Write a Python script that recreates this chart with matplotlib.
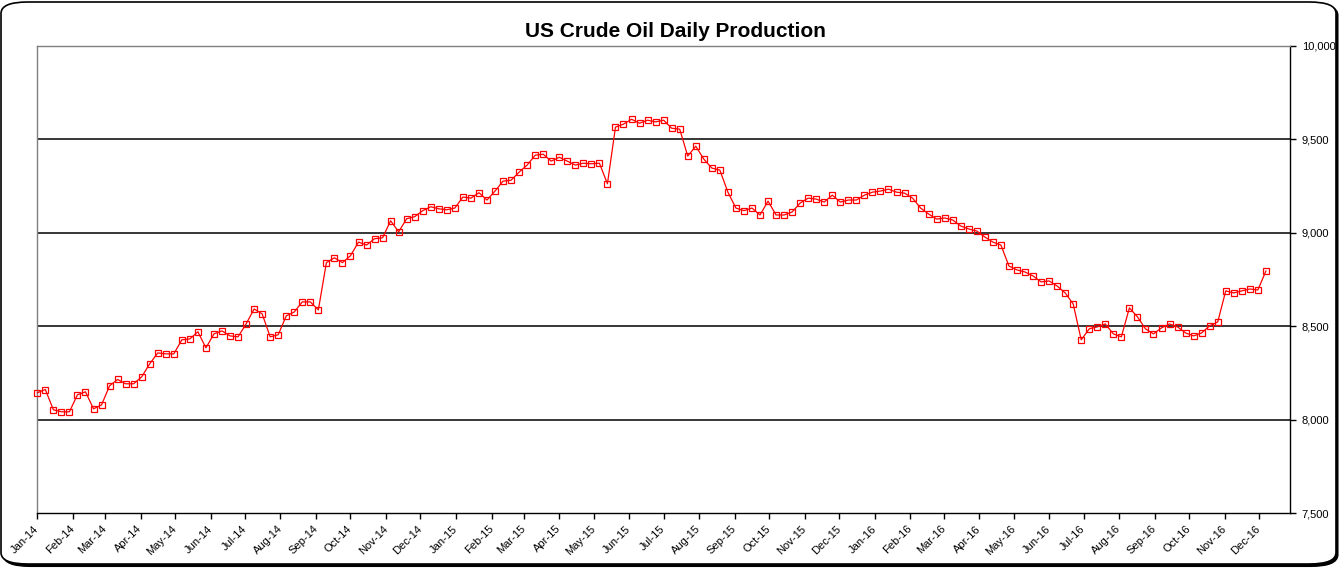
# -*- coding: utf-8 -*-
"""
US crude oil daily production, weekly, Jan 2014 - Dec 2016
"""
import matplotlib
matplotlib.use("Agg")
import matplotlib.pyplot as plt
import matplotlib.dates as mdates
from matplotlib.patches import FancyBboxPatch
from matplotlib.ticker import FuncFormatter
import pandas as pd

plt.rcParams['font.family'] = ['Liberation Sans', 'DejaVu Sans']

TITLE = "US Crude Oil Daily Production"
FIRST_WEEK = "2014-01-03"
LAST_DAY = "2016-12-30"

# thousand barrels per day, weekly
production = [
    8145, 8162, 8054, 8043, 8043, 8134, 8150, 8059, 8080, 8182,
    8216, 8193, 8193, 8230, 8300, 8358, 8353, 8353, 8428, 8433,
    8471, 8385, 8460, 8476, 8449, 8444, 8513, 8593, 8567, 8444,
    8455, 8556, 8577, 8631, 8631, 8588, 8841, 8867, 8841, 8878,
    8951, 8935, 8969, 8974, 9065, 9006, 9076, 9087, 9119, 9140,
    9129, 9124, 9133, 9192, 9186, 9215, 9176, 9224, 9277, 9282,
    9325, 9363, 9416, 9421, 9384, 9405, 9384, 9363, 9373, 9370,
    9373, 9263, 9566, 9582, 9608, 9587, 9603, 9594, 9603, 9560,
    9555, 9411, 9464, 9395, 9347, 9336, 9218, 9133, 9119, 9133,
    9096, 9170, 9096, 9096, 9112, 9160, 9186, 9181, 9165, 9202,
    9165, 9176, 9176, 9202, 9218, 9224, 9234, 9218, 9213, 9186,
    9133, 9101, 9074, 9080, 9069, 9037, 9021, 9010, 8978, 8951,
    8935, 8823, 8802, 8791, 8770, 8738, 8743, 8716, 8679, 8620,
    8428, 8487, 8497, 8513, 8460, 8444, 8599, 8551, 8487, 8460,
    8492, 8513, 8497, 8465, 8449, 8465, 8503, 8524, 8690, 8679,
    8690, 8700, 8695, 8796,
]
weeks = pd.date_range(FIRST_WEEK, periods=len(production), freq="7D")
month_ticks = pd.date_range(FIRST_WEEK, "2016-12-03", freq=pd.DateOffset(months=1))
y_ticks = [7500, 8000, 8500, 9000, 9500, 10000]

fig = plt.figure(figsize=(13.41, 5.68), dpi=100)

# rounded chart frame with a little shadow
shadow = FancyBboxPatch((3.5 / 1341, 1 - 566 / 568), 1334 / 1341, 562 / 568,
                        boxstyle="round,pad=0,rounding_size=0.02",
                        transform=fig.transFigure, facecolor="black",
                        edgecolor="black", linewidth=1.5, zorder=-2)
frame = FancyBboxPatch((1 / 1341, 1 - 564 / 568), 1335 / 1341, 562 / 568,
                       boxstyle="round,pad=0,rounding_size=0.02",
                       transform=fig.transFigure, facecolor="white",
                       edgecolor="black", linewidth=1.2, zorder=-1)
fig.patches.extend([shadow, frame])

ax = fig.add_axes([37.3 / 1341, 1 - 513.3 / 568, (1290 - 37.3) / 1341, (513.3 - 46) / 568])
ax.set_facecolor("white")
ax.patch.set_alpha(0)

for v in y_ticks[1:-1]:
    ax.axhline(v, color="black", linewidth=1.1, zorder=1)

ax.plot(weeks, production, color="#FF0000", linewidth=0.9, marker="s",
        markersize=4, markerfacecolor="none", markeredgecolor="#FF0000",
        markeredgewidth=0.9, zorder=3, clip_on=False)

ax.set_xlim(pd.Timestamp(FIRST_WEEK), pd.Timestamp(LAST_DAY))
ax.set_ylim(7500, 10000)

ax.spines["left"].set_color("#808080")
ax.spines["top"].set_color("#808080")
ax.spines["right"].set_color("black")
ax.spines["bottom"].set_color("black")
for s in ax.spines.values():
    s.set_linewidth(1.0)

ax.yaxis.tick_right()
ax.set_yticks(y_ticks)
ax.yaxis.set_major_formatter(FuncFormatter(lambda v, p: f"{int(v):,}"))
ax.tick_params(axis="y", direction="out", length=4, width=1, labelsize=8, pad=4.5)

ax.set_xticks(month_ticks)
ax.xaxis.set_major_formatter(mdates.DateFormatter("%b-%y"))
ax.tick_params(axis="x", direction="out", length=4, width=1, labelsize=8, pad=6)
for lbl in ax.get_xticklabels():
    lbl.set_rotation(45)
    lbl.set_ha("right")
    lbl.set_va("center")
    lbl.set_rotation_mode("anchor")

fig.text(675 / 1341, 1 - 31.5 / 568, TITLE, ha="center", va="center",
         fontsize=15, fontweight="bold")

fig.savefig("out.png", dpi=100, facecolor="white")
